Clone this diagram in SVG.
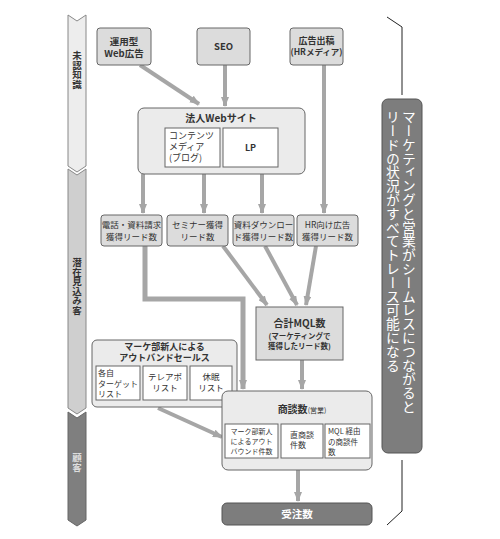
<svg xmlns="http://www.w3.org/2000/svg" width="500" height="539" viewBox="0 0 500 539">
<style>
text{font-family:"Noto Sans CJK JP","Noto Sans",sans-serif;fill:#333;text-anchor:middle}
.b{font-weight:bold}
.src{fill:#dcdcdc;stroke:#666;stroke-width:1}
.grp{fill:#ebebeb;stroke:#666;stroke-width:1}
.in{fill:#fff;stroke:#666;stroke-width:1}
.dk{fill:#7d7d7d;stroke:#555;stroke-width:1}
.ln{fill:none;stroke:#a6a6a6;stroke-width:4}
.vt{writing-mode:vertical-rl;text-anchor:start}
</style>
<defs>
<marker id="ah" markerUnits="userSpaceOnUse" markerWidth="10" markerHeight="8" viewBox="0 0 10 8" refX="9" refY="4" orient="auto">
<path d="M0,0 L10,4 L0,8 Z" fill="#a6a6a6"/>
</marker>
</defs>
<rect width="500" height="539" fill="#fff"/>

<g id="stages">
<polygon points="68,15 77,21 86,15 86,166 77,172 68,166" fill="#ededed" stroke="#888"/>
<polygon points="68,169 77,175 86,169 86,408 77,414 68,408" fill="#cfcfcf" stroke="#888"/>
<polygon points="68,412 77,418 86,412 86,520 77,526 68,520" fill="#7f7f7f" stroke="#666"/>
<text class="vt b" x="77" y="51" font-size="9.5">未認知識</text>
<text class="vt b" x="77" y="258" font-size="9.5">潜在見込み客</text>
<text class="vt b" x="77" y="453" font-size="9.5" style="fill:#ddd">顧客</text>
</g>

<g id="connectors">
<line class="ln" x1="140" y1="65" x2="199" y2="104" marker-end="url(#ah)"/>
<line class="ln" x1="225" y1="65" x2="225" y2="106" marker-end="url(#ah)"/>
<line class="ln" x1="324" y1="65" x2="324" y2="213" marker-end="url(#ah)"/>
<line class="ln" x1="143" y1="174" x2="143" y2="213" marker-end="url(#ah)"/>
<line class="ln" x1="204" y1="174" x2="204" y2="213" marker-end="url(#ah)"/>
<line class="ln" x1="262" y1="174" x2="262" y2="213" marker-end="url(#ah)"/>
<polyline class="ln" style="stroke-width:5" points="145,246 145,299 243,299 243,389" marker-end="url(#ah)"/>
<line class="ln" x1="223" y1="246" x2="267" y2="305" marker-end="url(#ah)"/>
<line class="ln" x1="265" y1="246" x2="297" y2="305" marker-end="url(#ah)"/>
<line class="ln" x1="316" y1="246" x2="306" y2="305" marker-end="url(#ah)"/>
<line class="ln" x1="302" y1="360" x2="302" y2="389" marker-end="url(#ah)"/>
<line class="ln" x1="158" y1="408" x2="222" y2="437" marker-end="url(#ah)"/>
<line class="ln" x1="298" y1="470" x2="298" y2="501" marker-end="url(#ah)"/>
</g>

<g id="web-ad">
<rect class="src" x="97" y="28" width="54" height="37" rx="3"/>
<text class="b" x="124" y="45" font-size="9.5">運用型</text>
<text class="b" x="124" y="57" font-size="9.5">Web広告</text>
</g>
<g id="seo">
<rect class="src" x="197" y="28" width="53" height="37" rx="3"/>
<text class="b" x="223.5" y="50" font-size="9.5">SEO</text>
</g>
<g id="hr-media">
<rect class="src" x="290" y="28" width="53" height="37" rx="3"/>
<text class="b" x="316.5" y="44" font-size="9">広告出稿</text>
<text class="b" x="316.5" y="55" font-size="8.5">(HRメディア)</text>
</g>

<g id="website">
<rect class="grp" x="138" y="108" width="167" height="66" rx="6"/>
<text class="b" x="221" y="122" font-size="10">法人Webサイト</text>
<rect class="in" x="165" y="128" width="55" height="39"/>
<text x="169" y="139" font-size="9" style="text-anchor:start">コンテンツ</text>
<text x="169" y="150" font-size="9" style="text-anchor:start">メディア</text>
<text x="169" y="161" font-size="9" style="text-anchor:start">(ブログ)</text>
<rect class="in" x="223" y="128" width="55" height="39"/>
<text class="b" x="250.5" y="151" font-size="9">LP</text>
</g>

<g id="tel-leads">
<rect class="src" x="101" y="215" width="61" height="31" rx="3"/>
<text x="131.5" y="228" font-size="8.5">電話・資料請求</text>
<text x="131.5" y="240" font-size="8.5">獲得リード数</text>
</g>
<g id="seminar-leads">
<rect class="src" x="167" y="215" width="61" height="31" rx="3"/>
<text x="197.5" y="228" font-size="8.5">セミナー獲得</text>
<text x="197.5" y="240" font-size="8.5">リード数</text>
</g>
<g id="dl-leads">
<rect class="src" x="233" y="215" width="61" height="31" rx="3"/>
<text x="263.5" y="228" font-size="8.5">資料ダウンロー</text>
<text x="263.5" y="240" font-size="8.5">ド獲得リード数</text>
</g>
<g id="hr-leads">
<rect class="src" x="297" y="215" width="61" height="31" rx="3"/>
<text x="327.5" y="228" font-size="8.5">HR向け広告</text>
<text x="327.5" y="240" font-size="8.5">獲得リード数</text>
</g>

<g id="mql">
<rect class="src" x="256" y="307" width="87" height="53"/>
<text class="b" x="299.5" y="327" font-size="10">合計MQL数</text>
<text class="b" x="299.5" y="339" font-size="7.5">(マーケティングで</text>
<text class="b" x="299.5" y="349" font-size="7.5">獲得したリード数)</text>
</g>

<g id="outbound">
<rect class="grp" x="92" y="340" width="145" height="67" rx="5"/>
<text class="b" x="164.5" y="350" font-size="9">マーケ部新人による</text>
<text class="b" x="164.5" y="361" font-size="9">アウトバンドセールス</text>
<rect class="in" x="96" y="366" width="44" height="34"/>
<text x="98" y="376" font-size="8" style="text-anchor:start">各自</text>
<text x="98" y="386.5" font-size="8" style="text-anchor:start">ターゲット</text>
<text x="98" y="397" font-size="8" style="text-anchor:start">リスト</text>
<rect class="in" x="143" y="366" width="44" height="34"/>
<text x="165" y="380" font-size="8.5">テレアポ</text>
<text x="165" y="391" font-size="8.5">リスト</text>
<rect class="in" x="190" y="366" width="42" height="34"/>
<text x="211" y="380" font-size="8.5">休眠</text>
<text x="211" y="391" font-size="8.5">リスト</text>
</g>

<g id="deals">
<rect class="grp" x="222" y="391" width="150" height="79" rx="6"/>
<text x="302" y="413" font-size="10"><tspan class="b">商談数</tspan><tspan font-size="7">(営業)</tspan></text>
<rect class="in" x="225" y="424" width="53" height="34"/>
<text x="251.5" y="434" font-size="7">マーク部新人</text>
<text x="251.5" y="444" font-size="7">によるアウト</text>
<text x="251.5" y="454" font-size="7">バウンド件数</text>
<rect class="in" x="281" y="424" width="42" height="34"/>
<text x="290" y="438" font-size="8" style="text-anchor:start">直商談</text>
<text x="290" y="448" font-size="8" style="text-anchor:start">件数</text>
<rect class="in" x="325" y="424" width="45" height="34"/>
<text x="328" y="434" font-size="7.5" style="text-anchor:start">MQL 経由</text>
<text x="328" y="444.5" font-size="7.5" style="text-anchor:start">の商談件</text>
<text x="328" y="455" font-size="7.5" style="text-anchor:start">数</text>
</g>

<g id="orders">
<rect class="dk" x="222" y="503" width="150" height="22" rx="5"/>
<text class="b" x="297" y="518" font-size="10.5" style="fill:#fff">受注数</text>
</g>

<g id="note">
<polyline points="387,17 402,27 402,95" fill="none" stroke="#222" stroke-width="1"/>
<polyline points="402,460 402,511 387,525" fill="none" stroke="#222" stroke-width="1"/>
<rect class="dk" x="382" y="99" width="40" height="354" rx="6"/>
<text class="vt" x="409" y="110" font-size="13.8" style="fill:#fff">マーケティングと営業がシームレスにつながると</text>
<text class="vt" x="393" y="110" font-size="13.8" style="fill:#fff">リードの状況がすべてトレース可能になる</text>
</g>
</svg>
